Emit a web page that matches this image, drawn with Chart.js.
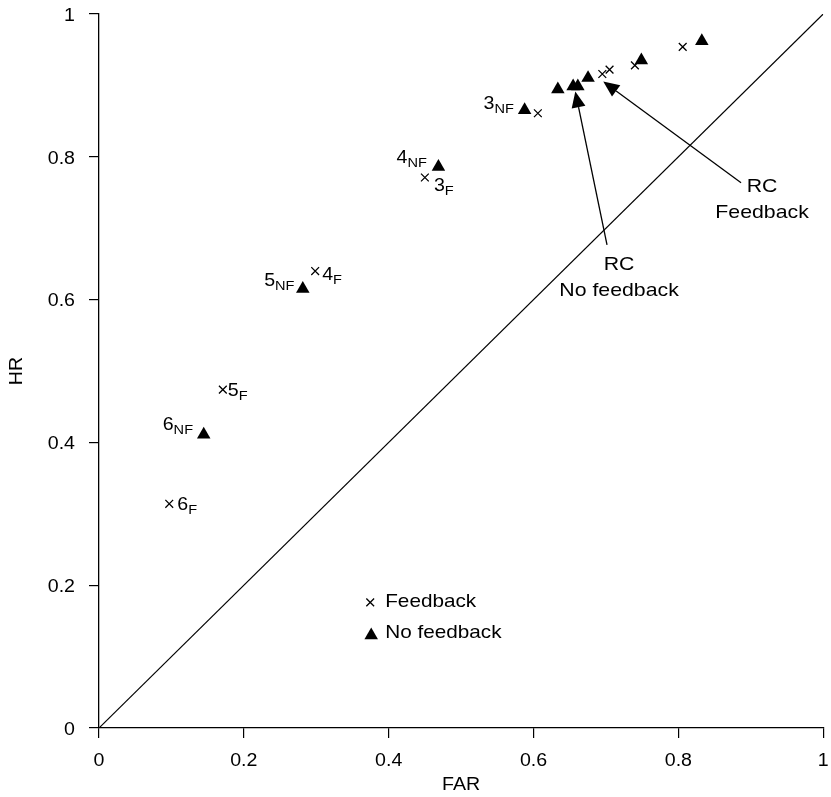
<!DOCTYPE html>
<html>
<head>
<meta charset="utf-8">
<script src="https://cdn.jsdelivr.net/npm/chart.js@4/dist/chart.umd.min.js"></script>
<style>
  html, body { margin: 0; padding: 0; background: #fff; }
  #wrap { width: 831px; height: 797px; position: relative; }
</style>
</head>
<body>
<div id="wrap"><canvas id="c"></canvas></div>
<script>
// Hit rate vs. false-alarm rate, with and without feedback
const feedbackFAR = [0.097, 0.171, 0.2985, 0.450, 0.606, 0.695, 0.705, 0.740, 0.806];
const feedbackHR  = [0.314, 0.474, 0.640, 0.771, 0.861, 0.916, 0.922, 0.928, 0.954];
const feedbackTags = ['6', '5', '4', '3', '', '', '', '', ''];

const noFeedbackFAR = [0.1446, 0.2814, 0.4687, 0.5877, 0.6336, 0.6547, 0.6612, 0.6753, 0.7489, 0.8324];
const noFeedbackHR  = [0.411, 0.615, 0.786, 0.8655, 0.8945, 0.8987, 0.8987, 0.9104, 0.9352, 0.9622];
const noFeedbackTags = ['6', '5', '4', '3', '', '', '', '', '', ''];

const tickValues = [0, 0.2, 0.4, 0.6, 0.8, 1];
const tickLabels = ['0', '0.2', '0.4', '0.6', '0.8', '1'];

// RC arrows: [no feedback, feedback]
const rcTipFAR  = [0.6577, 0.6963];
const rcTipHR   = [0.8915, 0.9055];
const rcTailFAR = [0.7015, 0.8866];
const rcTailHR  = [0.6765, 0.7637];
const rcText    = [['RC', 'No feedback'], ['RC', 'Feedback']];

// legend anchor (data units) for the first row
const legendFAR = 0.3745;
const legendHR  = 0.176;
const legendNames = ['Feedback', 'No feedback'];

const xTitle = 'FAR';
const yTitle = 'HR';

// ---- styling / layout ----
const FONT = '"Liberation Sans", Arial, Helvetica, sans-serif';
const SX = 1.12;               // horizontal widening of the lettering
const CROSS_R = 5.5;
const TRI_R = 7.8;
// tag placement in px: F tags -> [left offset, digit-centre offset]; NF tags -> [right offset, digit-centre offset]
const tagPlaceF  = [[8, 0], [5, 0.5], [7, 2.8], [9, 7.3]];
const tagPlaceNF = [[-10.7, -10.9], [-8.3, -8.7], [-11.6, -10.3], [-10.7, -7.5]];
// RC text: [centre offset x, first baseline offset y] from the arrow tail
const rcTextPlace = [[12, 25], [21, 9]];

function txt(ctx, s, x, y, size, align) {
  ctx.save();
  ctx.font = size + 'px ' + FONT;
  ctx.textBaseline = 'alphabetic';
  ctx.textAlign = 'left';
  const w = ctx.measureText(s).width * SX;
  const x0 = align === 'center' ? x - w / 2 : align === 'right' ? x - w : x;
  ctx.translate(x0, y);
  ctx.scale(SX, 1);
  ctx.fillStyle = '#000';
  ctx.fillText(s, 0, 0);
  ctx.restore();
  return w;
}
function width(ctx, s, size) {
  ctx.save();
  ctx.font = size + 'px ' + FONT;
  const w = ctx.measureText(s).width * SX;
  ctx.restore();
  return w;
}

const MAIN = 17.5, SUB = 13, SUB_DROP = 3.8;
function tag(ctx, num, sub, x, yCentre, align) {
  const base = yCentre + 0.716 * MAIN / 2;
  const wMain = width(ctx, num, MAIN), wSub = width(ctx, sub, SUB);
  const left = align === 'right' ? x - wMain - wSub : x;
  txt(ctx, num, left, base, MAIN, 'left');
  txt(ctx, sub, left + wMain, base + SUB_DROP, SUB, 'left');
}

function arrow(ctx, x1, y1, x2, y2) {
  const ang = Math.atan2(y2 - y1, x2 - x1);
  const len = 16, half = 7;
  const bx = x2 - Math.cos(ang) * len, by = y2 - Math.sin(ang) * len;
  ctx.save();
  ctx.strokeStyle = '#000';
  ctx.lineWidth = 1.3;
  ctx.beginPath();
  ctx.moveTo(x1, y1);
  ctx.lineTo(bx, by);
  ctx.stroke();
  ctx.fillStyle = '#000';
  ctx.beginPath();
  ctx.moveTo(x2, y2);
  ctx.lineTo(bx + Math.sin(ang) * half, by - Math.cos(ang) * half);
  ctx.lineTo(bx - Math.sin(ang) * half, by + Math.cos(ang) * half);
  ctx.closePath();
  ctx.fill();
  ctx.restore();
}

const decorations = {
  id: 'decorations',
  afterDraw(chart) {
    const ctx = chart.ctx;
    const xs = chart.scales.x, ys = chart.scales.y;
    const area = chart.chartArea;

    // tick labels
    const TICK = 17.5;
    ys.ticks.forEach((t, i) => {
      const py = ys.getPixelForValue(t.value);
      txt(ctx, tickLabels[i], area.left - 24, py + 0.5 + 0.716 * TICK / 2, TICK, 'right');
    });
    xs.ticks.forEach((t, i) => {
      const px = xs.getPixelForValue(t.value);
      txt(ctx, tickLabels[i], px, area.bottom + 38, TICK, 'center');
    });

    // axis titles
    txt(ctx, xTitle, (area.left + area.right) / 2, area.bottom + 62, TICK, 'center');
    ctx.save();
    ctx.translate(22, (area.top + area.bottom) / 2);
    ctx.rotate(-Math.PI / 2);
    txt(ctx, yTitle, 0, 0, TICK, 'center');
    ctx.restore();

    // point tags
    feedbackTags.forEach((s, i) => {
      if (!s) return;
      const px = xs.getPixelForValue(feedbackFAR[i]), py = ys.getPixelForValue(feedbackHR[i]);
      const p = tagPlaceF[i];
      tag(ctx, s, 'F', px + p[0], py + p[1], 'left');
    });
    noFeedbackTags.forEach((s, i) => {
      if (!s) return;
      const px = xs.getPixelForValue(noFeedbackFAR[i]), py = ys.getPixelForValue(noFeedbackHR[i]);
      const p = tagPlaceNF[i];
      tag(ctx, s, 'NF', px + p[0], py + p[1], 'right');
    });

    // RC arrows with their captions
    rcText.forEach((lines, i) => {
      const tx = xs.getPixelForValue(rcTailFAR[i]), ty = ys.getPixelForValue(rcTailHR[i]);
      const hx = xs.getPixelForValue(rcTipFAR[i]), hy = ys.getPixelForValue(rcTipHR[i]);
      arrow(ctx, tx, ty, hx, hy);
      const cx = tx + rcTextPlace[i][0];
      const by = ty + rcTextPlace[i][1];
      lines.forEach((l, k) => txt(ctx, l, cx, by + k * 26.5, 19, 'center'));
    });

    // legend
    const lx = xs.getPixelForValue(legendFAR), ly = ys.getPixelForValue(legendHR);
    ctx.save();
    ctx.strokeStyle = '#000';
    ctx.fillStyle = '#000';
    ctx.lineWidth = 1.3;
    Chart.helpers.drawPoint(ctx, { pointStyle: 'crossRot', radius: CROSS_R, borderWidth: 1.3 }, lx, ly);
    Chart.helpers.drawPoint(ctx, { pointStyle: 'triangle', radius: TRI_R, borderWidth: 0 }, lx + 1, ly + 33);
    ctx.restore();
    txt(ctx, legendNames[0], lx + 15, ly + 5, 18.5, 'left');
    txt(ctx, legendNames[1], lx + 15, ly + 36, 18.5, 'left');
  }
};

const axisCommon = {
  type: 'linear',
  min: 0,
  max: 1,
  afterBuildTicks: s => { s.ticks = tickValues.map(v => ({ value: v })); },
  afterFit: s => { if (s.isHorizontal()) s.height = 10; else s.width = 10; },
  ticks: { display: false },
  grid: { drawOnChartArea: false, drawTicks: true, tickLength: 10, color: '#000', lineWidth: 1.2 },
  border: { display: true, color: '#000', width: 1.3 },
  title: { display: false }
};

new Chart(document.getElementById('c'), {
  type: 'scatter',
  data: {
    datasets: [
      {
        type: 'line',
        label: 'chance',
        data: [{ x: 0, y: 0 }, { x: 1, y: 1 }],
        borderColor: '#000',
        borderWidth: 1.2,
        pointRadius: 0,
        fill: false
      },
      {
        label: legendNames[0],
        data: feedbackFAR.map((v, i) => ({ x: v, y: feedbackHR[i] })),
        pointStyle: 'crossRot',
        pointRadius: CROSS_R,
        borderColor: '#000',
        borderWidth: 1.3,
        backgroundColor: '#000'
      },
      {
        label: legendNames[1],
        data: noFeedbackFAR.map((v, i) => ({ x: v, y: noFeedbackHR[i] })),
        pointStyle: 'triangle',
        pointRadius: TRI_R,
        borderColor: '#000',
        borderWidth: 0,
        backgroundColor: '#000'
      }
    ]
  },
  options: {
    responsive: true,
    maintainAspectRatio: false,
    animation: false,
    layout: { padding: { left: 89, right: 6, top: 14, bottom: 59 } },
    plugins: { legend: { display: false }, tooltip: { enabled: false } },
    scales: { x: Object.assign({}, axisCommon), y: Object.assign({}, axisCommon) }
  },
  plugins: [decorations]
});
</script>
</body>
</html>
